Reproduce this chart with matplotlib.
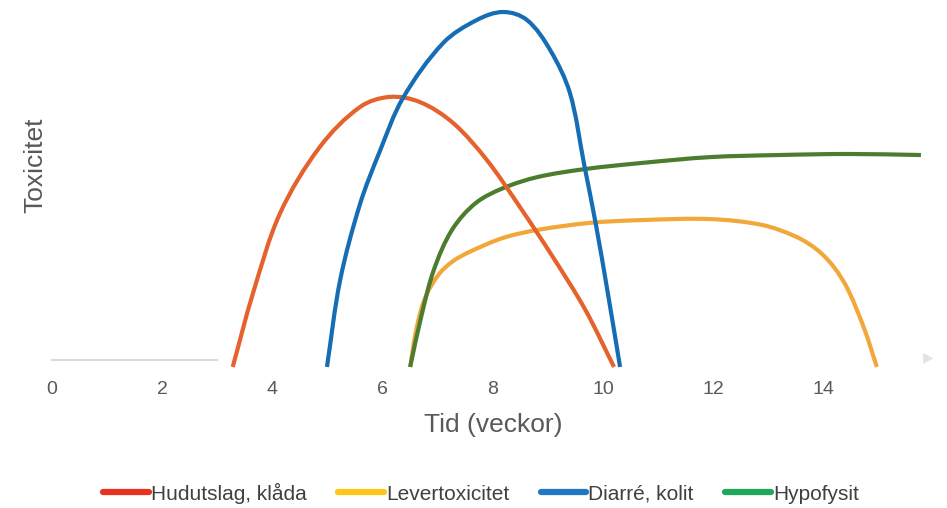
import numpy as np
import matplotlib
matplotlib.use("Agg")
import matplotlib.pyplot as plt
from matplotlib.path import Path
from matplotlib.patches import PathPatch
from matplotlib.lines import Line2D

plt.rcParams['font.family'] = ['Liberation Sans', 'DejaVu Sans']

# ---- data ----
x_ticks = [0, 2, 4, 6, 8, 10, 12, 14]
x_label = "Tid (veckor)"
y_label = "Toxicitet"

series_names = ["Hudutslag, klåda", "Levertoxicitet", "Diarré, kolit", "Hypofysit"]

rash_x = [3.28, 3.65, 4.14, 4.86, 5.59, 6.13, 6.68, 7.28, 7.89, 8.49, 9.09, 9.68, 10.20]
rash_y = [-0.20, 1.93, 4.22, 6.12, 7.27, 7.56, 7.41, 6.81, 5.75, 4.40, 2.96, 1.44, -0.20]

liver_x = [6.50, 6.61, 6.77, 7.01, 7.26, 7.57, 8.19, 8.82, 9.76, 10.69, 11.94, 12.89, 13.52, 13.90, 14.20, 14.45, 14.75, 14.97]
liver_y = [-0.20, 0.86, 1.78, 2.44, 2.82, 3.10, 3.51, 3.74, 3.94, 4.02, 4.05, 3.88, 3.53, 3.15, 2.65, 2.01, 0.86, -0.20]

colitis_x = [4.99, 5.23, 5.59, 5.95, 6.37, 7.10, 7.71, 8.19, 8.62, 9.04, 9.40, 9.66, 9.87, 10.09, 10.31]
colitis_y = [-0.20, 2.30, 4.48, 6.00, 7.53, 9.11, 9.77, 10.00, 9.77, 8.91, 7.67, 5.60, 3.90, 1.90, -0.20]

hypo_x = [6.50, 6.70, 6.93, 7.26, 7.69, 8.19, 8.82, 9.69, 10.69, 11.94, 13.19, 14.45, 15.77]
hypo_y = [-0.20, 1.24, 2.59, 3.74, 4.51, 4.94, 5.26, 5.49, 5.66, 5.83, 5.89, 5.92, 5.89]

curve_colors = ["#e6622d", "#f2a73a", "#176db4", "#4c7d2e"]
legend_colors = ["#e8321f", "#ffc61a", "#1f78c1", "#1fa85a"]

W, H = 947, 508
x0_px, px_per_x = 52, 55.1
y0_px, px_per_y = 360, 34.8


def smooth_path(xs, ys):
    """Smoothed line (Excel-like) as cubic Bezier path through the data points."""
    P = np.column_stack([xs, ys]).astype(float)
    S = np.array([px_per_x, px_per_y])
    Q = P * S  # isotropic (pixel-like) space
    n = len(Q)
    tang = np.zeros_like(Q)
    for i in range(n):
        a = Q[i - 1] if i > 0 else Q[i]
        b = Q[i + 1] if i < n - 1 else Q[i]
        v = b - a
        tang[i] = v / np.linalg.norm(v)
    verts = [tuple(P[0])]
    codes = [Path.MOVETO]
    for i in range(n - 1):
        d = np.linalg.norm(Q[i + 1] - Q[i])
        c1 = (Q[i] + tang[i] * d / 3.0) / S
        c2 = (Q[i + 1] - tang[i + 1] * d / 3.0) / S
        verts += [tuple(c1), tuple(c2), tuple(P[i + 1])]
        codes += [Path.CURVE4] * 3
    return Path(verts, codes)


fig = plt.figure(figsize=(9.47, 5.08), dpi=100)
xmin, xmax = 0, 16
ymin, ymax = -0.35, 10.25
left = x0_px / W
width = (xmax - xmin) * px_per_x / W
bottom_px = y0_px - ymin * px_per_y
top_px = y0_px - ymax * px_per_y
ax = fig.add_axes([left, (H - bottom_px) / H, width, (bottom_px - top_px) / H])
ax.set_xlim(xmin, xmax)
ax.set_ylim(ymin, ymax)

data = [(rash_x, rash_y), (liver_x, liver_y), (colitis_x, colitis_y), (hypo_x, hypo_y)]
zorders = [4, 2, 5, 3]
for (xs, ys), col, z in zip(data, curve_colors, zorders):
    patch = PathPatch(smooth_path(xs, ys), facecolor='none', edgecolor=col,
                      lw=3.0, zorder=z, clip_on=False, capstyle='butt')
    ax.add_patch(patch)

# axes styling
for s in ['top', 'right', 'left']:
    ax.spines[s].set_visible(False)
ax.spines['bottom'].set_position(('data', 0))
ax.spines['bottom'].set_bounds(0, 3)
ax.spines['bottom'].set_color('#d9d9d9')
ax.spines['bottom'].set_linewidth(1.5)
ax.set_yticks([])
ax.set_xticks(x_ticks)
ax.set_xticklabels([str(t) for t in x_ticks])
ax.tick_params(axis='x', which='major', length=0, pad=15, labelsize=14, labelcolor='#595959')
ax.set_xticks([0, 2], minor=True)
ax.tick_params(axis='x', which='minor', direction='in', length=4, width=1.5, color='#d9d9d9')

fig.text(493 / W, 1 - 425 / H, x_label, ha='center', va='center', fontsize=19, color='#595959')
fig.text(35 / W, 1 - 165 / H, y_label, ha='center', va='center', rotation=90, fontsize=19, color='#595959')
ax.text(0.994, 0.04, "\u25B6", transform=ax.transAxes, ha='center', va='center',
        fontsize=10, color='#e3e3e3', family=['DejaVu Sans'])

handles = [Line2D([], [], color=c, lw=4.5, solid_capstyle='round') for c in legend_colors]
fig.legend(handles, series_names, loc='center', bbox_to_anchor=(481 / W, 1 - 493 / H),
           ncol=4, frameon=False, fontsize=15, handlelength=2.2, handletextpad=0.1,
           columnspacing=1.5, labelcolor='#404040')

fig.savefig("out.png", dpi=100)
